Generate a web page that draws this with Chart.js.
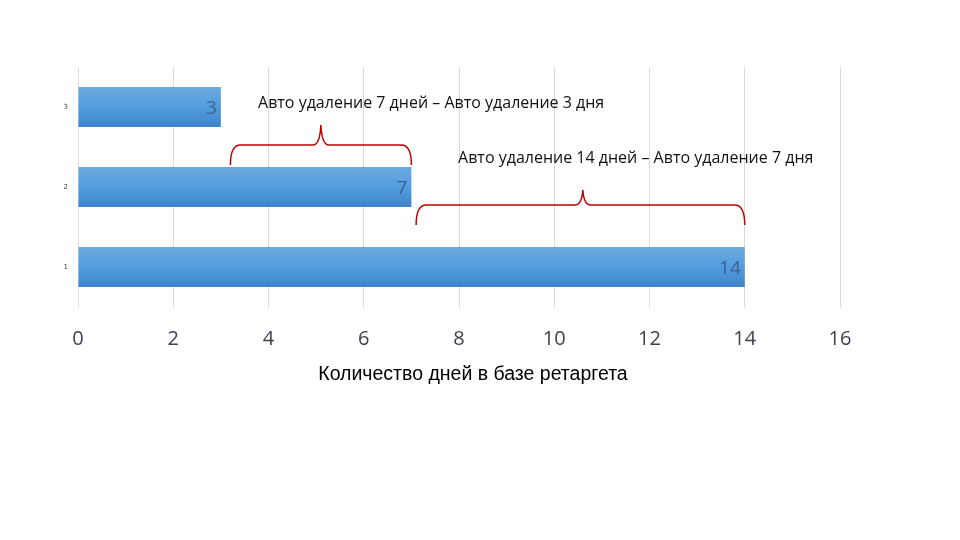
<!DOCTYPE html>
<html>
<head>
<meta charset="utf-8">
<script src="https://cdn.jsdelivr.net/npm/chart.js@4/dist/chart.umd.min.js"></script>
<style>
  html, body { margin: 0; padding: 0; background: #fff; }
  #wrap { width: 960px; height: 540px; position: relative; }
</style>
</head>
<body>
<div id="wrap"><canvas id="chart-retarget"></canvas></div>
<script>
    "use strict";

    // Data
    var categories = ['1', '2', '3'];
    var days = [14, 7, 3];
    var xTicks = [0, 2, 4, 6, 8, 10, 12, 14, 16];
    var axisTitle = 'Количество дней в базе ретаргета';

    // Callouts: text and brace span along the value axis
    var noteTexts = [
        'Авто удаление 7 дней – Авто удаление 3 дня',
        'Авто удаление 14 дней – Авто удаление 7 дня'
    ];
    var braceFrom = [3.2, 7.1];
    var braceTo = [7, 14];
    var bracePeak = [5.1, 10.6];

    // Bars with a soft vertical gradient
    function barFill(ctx) {
        var chart = ctx.chart
        var area = chart.chartArea
        if (!area) return '#4f95d8'
        var y = chart.scales.y
        var band = (area.bottom - area.top) / categories.length * 0.5
        var cy = y.getPixelForValue(ctx.dataIndex)
        var g = chart.ctx.createLinearGradient(0, cy - band / 2, 0, cy + band / 2)
        g.addColorStop(0, '#6eaade')
        g.addColorStop(0.5, '#519ce0')
        g.addColorStop(1, '#4084c8')
        return g
    }

    function drawBrace(c, x1, x2, xp, yLine, hook, peak) {
        var r = 10
        c.beginPath()
        c.moveTo(x1, yLine + hook)
        c.quadraticCurveTo(x1, yLine, x1 + r, yLine)
        c.lineTo(xp - 8, yLine)
        c.quadraticCurveTo(xp - 1, yLine, xp, yLine - peak)
        c.quadraticCurveTo(xp + 1, yLine, xp + 8, yLine)
        c.lineTo(x2 - r, yLine)
        c.quadraticCurveTo(x2, yLine, x2, yLine + hook)
        c.stroke()
    }

    var callouts = {
        id: 'callouts',
        afterDatasetsDraw: function(chart) {
            var c = chart.ctx
            var x = chart.scales.x
            var y = chart.scales.y
            var area = chart.chartArea
            var meta = chart.getDatasetMeta(0)

            // value labels inside bar end
            c.save()
            c.font = '19px "Open Sans", sans-serif'
            c.fillStyle = '#3d5f8c'
            c.textAlign = 'right'
            c.textBaseline = 'middle'
            meta.data.forEach(function(bar, i) {
                c.fillText(String(days[i]), bar.x - 4, bar.y + 2)
            })
            c.restore()

            // notes
            c.save()
            c.font = '16px "Open Sans", sans-serif'
            c.fillStyle = '#111'
            c.textAlign = 'left'
            c.textBaseline = 'middle'
            c.fillText(noteTexts[0], x.getPixelForValue(3.78), y.getPixelForValue(2.04))
            c.fillText(noteTexts[1], x.getPixelForValue(7.98), y.getPixelForValue(1.36))
            c.restore()

            // braces
            c.save()
            c.strokeStyle = '#c00000'
            c.lineWidth = 1.5
            drawBrace(c, x.getPixelForValue(braceFrom[0]), x.getPixelForValue(braceTo[0]),
                x.getPixelForValue(bracePeak[0]), y.getPixelForValue(1.525), 20, 20)
            drawBrace(c, x.getPixelForValue(braceFrom[1]), x.getPixelForValue(braceTo[1]),
                x.getPixelForValue(bracePeak[1]), y.getPixelForValue(0.775), 20, 15)
            c.restore()

            // axis title, set a little right of centre as in the original
            c.save()
            c.font = '19.5px "Liberation Sans", Arial, sans-serif'
            c.fillStyle = '#000'
            c.textAlign = 'center'
            c.textBaseline = 'middle'
            c.fillText(axisTitle, (area.left + area.right) / 2 + 14, area.bottom + 68)
            c.restore()
        }
    }

    var canvas = document.getElementById('chart-retarget').getContext('2d')

    new Chart(canvas, {
        type: 'bar',
        data: {
            labels: categories,
            datasets: [{
                label: 'Дни',
                data: days,
                backgroundColor: barFill,
                borderWidth: 0,
                barPercentage: 0.5,
                categoryPercentage: 1
            }]
        },
        options: {
            indexAxis: 'y',
            responsive: true,
            maintainAspectRatio: false,
            animation: false,
            layout: {
                padding: { top: 67, right: 120, bottom: 173, left: 0 }
            },
            plugins: {
                legend: { display: false },
                tooltip: { enabled: false }
            },
            scales: {
                x: {
                    min: xTicks[0],
                    max: xTicks[xTicks.length - 1],
                    afterBuildTicks: function(scale) {
                        scale.ticks = xTicks.map(function(v) { return { value: v } })
                    },
                    afterFit: function(scale) { scale.height = 60 },
                    grid: { color: '#d9d9d9', lineWidth: 1, drawTicks: false },
                    border: { display: false },
                    ticks: {
                        padding: 20,
                        color: '#404050',
                        font: { family: '"Open Sans", sans-serif', size: 20 }
                    }
                },
                y: {
                    reverse: true,
                    grid: { display: false, drawTicks: false },
                    border: { display: false },
                    afterFit: function(scale) { scale.width = 78 },
                    ticks: {
                        padding: 10,
                        color: '#444',
                        font: { family: '"DejaVu Sans", sans-serif', size: 7 }
                    }
                }
            }
        },
        plugins: [callouts]
    })
</script>
</body>
</html>
